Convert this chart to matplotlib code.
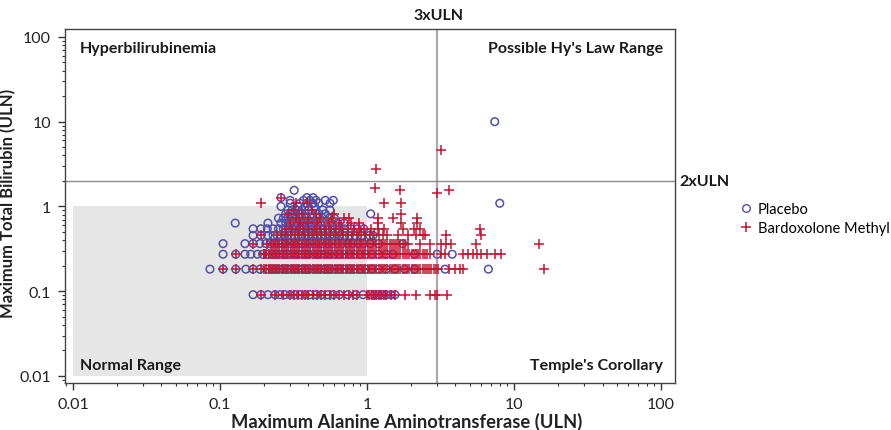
import matplotlib
matplotlib.use("Agg")
import matplotlib.pyplot as plt
from matplotlib.lines import Line2D
from matplotlib.patches import Rectangle
from matplotlib.ticker import LogLocator, FixedLocator, FixedFormatter, NullFormatter

plt.rcParams['font.family'] = ['Lato', 'DejaVu Sans']

# ---------------- data ----------------
# densely populated stretch of ALT values (xULN) seen in the crowded rows
alt_band = [0.20, 0.207, 0.214, 0.221, 0.229, 0.237, 0.245, 0.254, 0.263, 0.272,
            0.282, 0.292, 0.302, 0.313, 0.324, 0.335, 0.347, 0.359, 0.372, 0.385,
            0.398, 0.412, 0.427, 0.442, 0.457, 0.473, 0.49, 0.507, 0.525, 0.543,
            0.562, 0.582, 0.602, 0.623, 0.645, 0.668, 0.691, 0.715, 0.74, 0.766,
            0.793, 0.821, 0.85, 0.88, 0.91, 0.94, 0.975, 1.01, 1.045, 1.08, 1.12,
            1.16, 1.2, 1.24, 1.285, 1.33, 1.375, 1.425, 1.475, 1.525, 1.58, 1.635,
            1.69, 1.75, 1.81, 1.875, 1.94, 2.01, 2.08, 2.15, 2.23, 2.31, 2.39, 2.47,
            2.56, 2.65, 2.74, 2.84, 2.94, 3.04]

# Maximum total bilirubin levels (xULN) and the ALT (xULN) values observed at each level
placebo_bili = [0.091, 0.182, 0.273, 0.364, 0.455, 0.545, 0.636, 0.727, 0.818,
                0.909, 1.0, 1.09, 1.18, 1.27, 1.55, 10.0]
placebo_alt = [
    [0.168, 0.19, 0.212, 0.237, 0.256, 0.277, 0.30, 0.325, 0.35, 0.38, 0.41, 0.45,
     0.49, 0.54, 0.59, 0.65, 0.74, 0.84, 0.94, 1.06, 1.12, 1.19, 1.27, 1.35, 1.45, 1.55],
    [0.0855, 0.105, 0.128, 0.15, 0.168, 0.187, 0.21, 0.225, 0.24, 0.255, 0.27, 0.285,
     0.30, 0.32, 0.34, 0.36, 0.38, 0.40, 0.43, 0.46, 0.49, 0.52, 0.56, 0.60, 0.65,
     0.70, 0.76, 0.82, 0.90, 0.98, 1.08, 1.2, 1.35, 1.55, 1.8, 2.1, 3.4, 6.7],
    [0.105, 0.128, 0.148, 0.162, 0.18, 0.195, 0.21, 0.225, 0.24, 0.255, 0.27, 0.285,
     0.30, 0.32, 0.34, 0.36, 0.38, 0.40, 0.43, 0.46, 0.49, 0.52, 0.56, 0.60, 0.65,
     0.70, 0.76, 0.82, 0.90, 0.98, 1.08, 1.2, 1.35, 1.5, 2.1, 3.0, 3.8],
    [0.105, 0.148, 0.168, 0.187, 0.205, 0.22, 0.235, 0.25, 0.265, 0.28, 0.30, 0.32,
     0.34, 0.36, 0.38, 0.41, 0.44, 0.47, 0.50, 0.54, 0.58, 0.63, 0.68, 0.74, 0.80,
     0.87, 0.95, 1.05, 1.2, 1.75],
    [0.168, 0.19, 0.212, 0.23, 0.245, 0.26, 0.275, 0.29, 0.305, 0.32, 0.34, 0.36,
     0.38, 0.40, 0.43, 0.46, 0.49, 0.52, 0.56, 0.60, 0.65, 0.70, 0.76, 0.83, 0.92,
     1.04, 1.1],
    [0.168, 0.19, 0.21, 0.23, 0.25, 0.27, 0.29, 0.31, 0.33, 0.35, 0.37, 0.40, 0.43,
     0.46, 0.50, 0.54, 0.58, 0.63, 0.70, 0.78, 0.86, 0.95],
    [0.127, 0.212, 0.26, 0.28, 0.30, 0.32, 0.34, 0.36, 0.38, 0.41, 0.44, 0.48, 0.52,
     0.57, 0.63, 0.70],
    [0.25, 0.27, 0.29, 0.31, 0.33, 0.36, 0.39, 0.42, 0.46, 0.50, 0.55, 0.60],
    [0.28, 0.30, 0.32, 0.35, 0.38, 0.42, 0.47, 0.52, 1.06],
    [0.29, 0.31, 0.33, 0.36, 0.40, 0.45, 0.50, 0.56],
    [0.26, 0.34, 0.38, 0.44],
    [0.30, 0.35, 0.39, 0.43, 0.47, 0.56, 8.0],
    [0.30, 0.37, 0.41, 0.45, 0.52, 0.59],
    [0.26, 0.39, 0.43],
    [0.32],
    [7.4],
]

bard_bili = [0.091, 0.182, 0.273, 0.364, 0.455, 0.545, 0.636, 0.727, 0.818,
             0.909, 1.09, 1.27, 1.46, 1.55, 1.63, 2.8, 4.6]
bard_alt = [
    [0.19, 0.237, 0.27, 0.30, 0.32, 0.34, 0.36, 0.38, 0.40, 0.43, 0.46, 0.49, 0.52,
     0.56, 0.60, 0.65, 0.70, 0.75, 0.80, 0.86, 1.0, 1.04, 1.08, 1.12, 1.16, 1.2,
     1.25, 1.3, 1.35, 1.45, 1.55, 1.8, 2.15, 2.7, 2.9, 3.0, 3.5],
    [0.105, 0.128, 0.168, 0.19] + alt_band + [3.6, 4.0, 4.3, 4.5, 16.0],
    [0.128, 0.20] + alt_band[:75] + [2.7, 3.2, 3.4, 4.5, 4.9, 5.3, 5.6, 6.0, 6.6,
                                     7.4, 8.2],
    [0.168, 0.21] + alt_band[3:65] + [1.9, 2.3, 2.7, 3.2, 3.45, 3.7, 5.5, 14.8],
    [0.19] + alt_band[6:58:2] + [1.62, 1.9, 2.15, 2.4, 2.5, 3.45, 6.0],
    [0.28, 0.31, 0.34, 0.37, 0.40, 0.44, 0.48, 0.52, 0.57, 0.62, 0.68, 0.74, 0.81,
     0.88, 0.96, 1.06, 1.19, 1.3, 1.75, 2.1, 2.3, 5.9],
    [0.30, 0.35, 0.40, 0.46, 0.55, 0.65, 0.78, 0.88, 1.19, 1.7, 2.2],
    [0.33, 0.40, 0.48, 0.58, 0.70, 0.75, 1.19, 1.5, 2.2],
    [0.29, 0.36, 0.45, 0.60, 1.7],
    [0.32, 0.42],
    [0.19, 0.33, 0.39, 1.3, 1.7],
    [0.26],
    [3.0],
    [1.68, 3.6],
    [1.13],
    [1.15],
    [3.2],
]

x_ticks = [0.01, 0.1, 1, 10, 100]
x_tick_labels = ["0.01", "0.1", "1", "10", "100"]
y_ticks = [0.01, 0.1, 1, 10, 100]
y_tick_labels = ["0.01", "0.1", "1", "10", "100"]

alt_limit = 3.0      # 3xULN
bili_limit = 2.0     # 2xULN
normal_upper = 1.0   # normal range upper bound (both axes)

group_names = ["Placebo", "Bardoxolone Methyl"]

# ---------------- styling ----------------
BLUE = "#5050AC"
RED = "#C41430"
W, H = 891, 431
fig = plt.figure(figsize=(W / 100, H / 100), dpi=100)
ax = fig.add_axes([65 / W, 1 - 384 / H, 610 / W, 354 / H])
ax.set_xscale("log")
ax.set_yscale("log")
ax.set_xlim(0.00883, 124.5)
ax.set_ylim(0.00826, 124.0)

# normal range box
ax.add_patch(Rectangle((0.01, 0.01), normal_upper - 0.01, normal_upper - 0.01,
                       facecolor="#E6E6E6", edgecolor="none", zorder=0))
ax.axvline(alt_limit, color="#ABABAB", lw=1.6, zorder=1)
ax.axhline(bili_limit, color="#8C8C8C", lw=1.0, zorder=1)

px, py = [], []
for b, alts in zip(placebo_bili, placebo_alt):
    px += alts
    py += [b] * len(alts)
bx, by = [], []
for b, alts in zip(bard_bili, bard_alt):
    bx += alts
    by += [b] * len(alts)

ax.scatter(px, py, s=30, marker="o", facecolors="none", edgecolors=BLUE,
           linewidths=1.1, zorder=3)
ax.scatter(bx, by, s=44, marker="+", color=RED, linewidths=1.1, zorder=4)

# ticks
ax.xaxis.set_major_locator(FixedLocator(x_ticks))
ax.xaxis.set_major_formatter(FixedFormatter(x_tick_labels))
ax.yaxis.set_major_locator(FixedLocator(y_ticks))
ax.yaxis.set_major_formatter(FixedFormatter(y_tick_labels))
ax.xaxis.set_minor_locator(LogLocator(base=10, subs=range(2, 10), numticks=20))
ax.yaxis.set_minor_locator(LogLocator(base=10, subs=range(2, 10), numticks=20))
ax.xaxis.set_minor_formatter(NullFormatter())
ax.yaxis.set_minor_formatter(NullFormatter())
ax.tick_params(axis="both", which="major", direction="out", length=5, width=1,
               color="#333333", labelsize=11.5, labelcolor="#222222", pad=5)
ax.tick_params(axis="both", which="minor", direction="out", length=2.5, width=0.8,
               color="#333333")
for s in ax.spines.values():
    s.set_color("#444444")
    s.set_linewidth(1.0)

ax.set_xlabel("Maximum Alanine Aminotransferase (ULN)", fontsize=13.2,
              fontweight="bold", color="#222222")
ax.set_ylabel("Maximum Total Bilirubin (ULN)", fontsize=12, fontweight="bold",
              color="#222222")
ax.xaxis.set_label_coords(0.56, -0.083)
ax.yaxis.set_label_coords(-0.08, 0.51)

# quadrant labels
kw = dict(fontsize=11.5, fontweight="bold", color="#1a1a1a")
ax.text(0.024, 0.965, "Hyperbilirubinemia", transform=ax.transAxes, ha="left", va="top", **kw)
ax.text(0.98, 0.965, "Possible Hy's Law Range", transform=ax.transAxes, ha="right", va="top", **kw)
ax.text(0.024, 0.032, "Normal Range", transform=ax.transAxes, ha="left", va="bottom", **kw)
ax.text(0.98, 0.032, "Temple's Corollary", transform=ax.transAxes, ha="right", va="bottom", **kw)

# reference line labels
ax.annotate("3xULN", xy=(alt_limit, 1), xycoords=("data", "axes fraction"),
            xytext=(1, 5), textcoords="offset points", ha="center", va="bottom", **kw)
ax.annotate("2xULN", xy=(1, bili_limit), xycoords=("axes fraction", "data"),
            xytext=(3, 0), textcoords="offset points", ha="left", va="center", **kw)

# legend
handles = [
    Line2D([], [], linestyle="none", marker="o", markersize=5.5, markerfacecolor="none",
           markeredgecolor=BLUE, markeredgewidth=1.0),
    Line2D([], [], linestyle="none", marker="+", markersize=6.5, color=RED,
           markeredgewidth=1.1),
]
fig.legend(handles, group_names, loc="upper left",
           bbox_to_anchor=(740 / W, 1 - 203 / H), frameon=False, fontsize=10.5,
           handlelength=0.8, handletextpad=0.4, labelspacing=0.35, borderaxespad=0,
           borderpad=0)

fig.savefig("out.png", dpi=100)
